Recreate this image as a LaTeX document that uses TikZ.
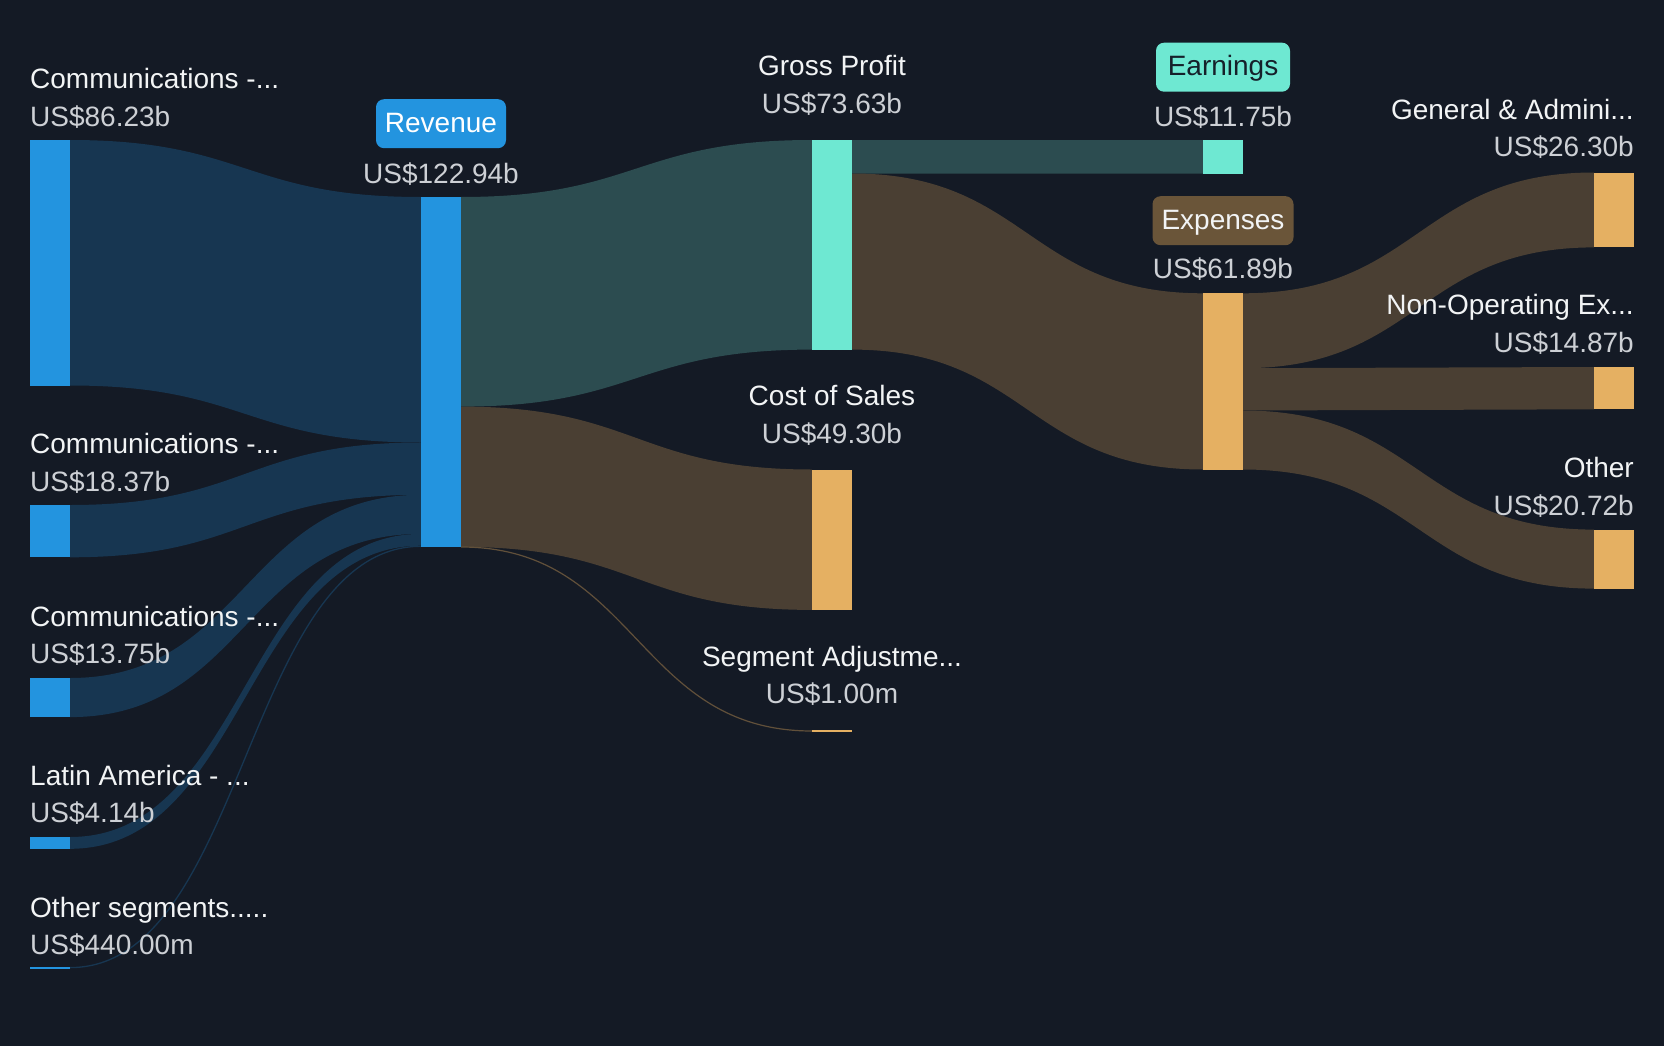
\documentclass[tikz,border=0pt]{standalone}
\usepackage{fontspec}
\setmainfont{Liberation Sans}
\definecolor{bg}{HTML}{141A25}
\definecolor{blue}{HTML}{2394DF}
\definecolor{bluelink}{HTML}{173651}
\definecolor{teal}{HTML}{6EE8D2}
\definecolor{teallink}{HTML}{2C4C50}
\definecolor{orange}{HTML}{E5B062}
\definecolor{brownlink}{HTML}{4A3F33}
\definecolor{brownbox}{HTML}{6A5539}
\definecolor{labelcol}{HTML}{F2F4F5}
\definecolor{valuecol}{HTML}{CDD0D5}
\definecolor{darktext}{HTML}{15202A}
\newcommand{\ribbon}[7]{%
  \fill[#7] (#1,#2) .. controls ({(#1+#4)/2},#2) and ({(#1+#4)/2},#5) .. (#4,#5)
    -- (#4,#6) .. controls ({(#1+#4)/2},#6) and ({(#1+#4)/2},#3) .. (#1,#3) -- cycle;}
\tikzset{
  bar/.style={rectangle, inner sep=0pt, outer sep=0pt, minimum width=40pt, anchor=north west},
  lbl/.style={inner sep=0pt, text=labelcol, font=\fontsize{28}{32}\selectfont},
  val/.style={inner sep=0pt, text=valuecol, font=\fontsize{28}{32}\selectfont},
  tag/.style={rectangle, rounded corners=8pt, inner sep=0pt, font=\fontsize{28}{32}\selectfont},
}
\begin{document}
\begin{tikzpicture}[x=1pt,y=-1pt]
\fill[bg] (0,0) rectangle (1664,1046);
\useasboundingbox (0,0) rectangle (1664,1046);

% ---- links: sources -> revenue
\ribbon{70}{140}{385.5}{421}{197}{442.5}{bluelink}
\ribbon{70}{505}{557.3}{421}{442.5}{494.8}{bluelink}
\ribbon{70}{678}{717.1}{421}{494.8}{533.9}{bluelink}
\ribbon{70}{837}{848.8}{421}{533.9}{545.7}{bluelink}
\draw[bluelink, line width=1.3pt] (70,967.6) .. controls (245.5,967.6) and (245.5,546.3) .. (421,546.3);

% ---- revenue -> GP / COS / Segment adj
\ribbon{461}{197}{406.6}{812}{140}{349.6}{teallink}
\ribbon{461}{406.6}{546.9}{812}{469.5}{609.9}{brownlink}
\draw[brownlink!85!orange, line width=1.2pt] (461,547) .. controls (636.5,547) and (636.5,731) .. (812,731);

% ---- GP -> earnings / expenses
\ribbon{852}{140}{173.5}{1203}{140}{173.5}{teallink}
\ribbon{852}{173.5}{349.6}{1203}{293.3}{469.5}{brownlink}

% ---- expenses -> right
\ribbon{1243}{293.3}{368.2}{1594}{172.5}{247.4}{brownlink}
\ribbon{1243}{368.2}{410.5}{1594}{367}{409.3}{brownlink}
\ribbon{1243}{410.5}{469.5}{1594}{529.6}{588.6}{brownlink}

% ---- bars
\node[bar, fill=blue, minimum height=245.5pt] (s1) at (30,140) {};
\node[bar, fill=blue, minimum height=52.3pt] (s2) at (30,505) {};
\node[bar, fill=blue, minimum height=39.1pt] (s3) at (30,678) {};
\node[bar, fill=blue, minimum height=11.8pt] (s4) at (30,837) {};
\node[bar, fill=blue, minimum height=1.6pt] (s5) at (30,967) {};
\node[bar, fill=blue, minimum height=350pt] (rev) at (421,197) {};
\node[bar, fill=teal, minimum height=209.6pt] (gp) at (812,140) {};
\node[bar, fill=orange, minimum height=140.4pt] (cos) at (812,469.5) {};
\node[bar, fill=orange, minimum height=2pt] (seg) at (812,730) {};
\node[bar, fill=teal, minimum height=33.5pt] (earn) at (1203,140) {};
\node[bar, fill=orange, minimum height=176.2pt] (exp) at (1203,293.3) {};
\node[bar, fill=orange, minimum height=74.9pt] (ga) at (1594,172.5) {};
\node[bar, fill=orange, minimum height=42.3pt] (nonop) at (1594,367) {};
\node[bar, fill=orange, minimum height=59pt] (oth) at (1594,529.6) {};

% ---- left labels
\node[lbl, anchor=base west] (s1l) at (30,89) {Communications -...};
\node[val, anchor=base west] (s1v) at (30,127) {US\$86.23b};
\node[lbl, anchor=base west] (s2l) at (30,453.5) {Communications -...};
\node[val, anchor=base west] (s2v) at (30,491) {US\$18.37b};
\node[lbl, anchor=base west] (s3l) at (30,626) {Communications -...};
\node[val, anchor=base west] (s3v) at (30,663.5) {US\$13.75b};
\node[lbl, anchor=base west] (s4l) at (30,785) {Latin America - ...};
\node[val, anchor=base west] (s4v) at (30,822.5) {US\$4.14b};
\node[lbl, anchor=base west] (s5l) at (30,917) {Other segments.....};
\node[val, anchor=base west] (s5v) at (30,954) {US\$440.00m};

% ---- revenue
\node[tag, fill=blue, minimum width=130pt, minimum height=49pt, anchor=north] (revtag) at (441,99) {};
\node[lbl, anchor=base, text=white] (revt) at (441,132.7) {Revenue};
\node[val, anchor=base] (revv) at (441,183.3) {US\$122.94b};

% ---- middle labels
\node[lbl, anchor=base] (gpl) at (832,75.7) {Gross Profit};
\node[val, anchor=base] (gpv) at (832,113.3) {US\$73.63b};
\node[lbl, anchor=base] (cosl) at (832,405.7) {Cost of Sales};
\node[val, anchor=base] (cosv) at (832,443.3) {US\$49.30b};
\node[lbl, anchor=base] (segl) at (832,666) {Segment Adjustme...};
\node[val, anchor=base] (segv) at (832,703.3) {US\$1.00m};

% ---- earnings / expenses
\node[tag, fill=teal, minimum width=134pt, minimum height=49pt, anchor=north] (earntag) at (1223,42.5) {};
\node[lbl, anchor=base, text=darktext] (earnt) at (1223,75.7) {Earnings};
\node[val, anchor=base] (earnv) at (1223,126.7) {US\$11.75b};
\node[tag, fill=brownbox, minimum width=141pt, minimum height=49pt, anchor=north] (exptag) at (1223,196) {};
\node[lbl, anchor=base] (expt) at (1223,229) {Expenses};
\node[val, anchor=base] (expv) at (1223,278.3) {US\$61.89b};

% ---- right labels
\node[lbl, anchor=base east] (gal) at (1634,120) {General \& Admini...};
\node[val, anchor=base east] (gav) at (1634,157) {US\$26.30b};
\node[lbl, anchor=base east] (nonopl) at (1634,314.6) {Non-Operating Ex...};
\node[val, anchor=base east] (nonopv) at (1634,352) {US\$14.87b};
\node[lbl, anchor=base east] (othl) at (1634,477) {Other};
\node[val, anchor=base east] (othv) at (1634,515.4) {US\$20.72b};
\end{tikzpicture}
\end{document}
